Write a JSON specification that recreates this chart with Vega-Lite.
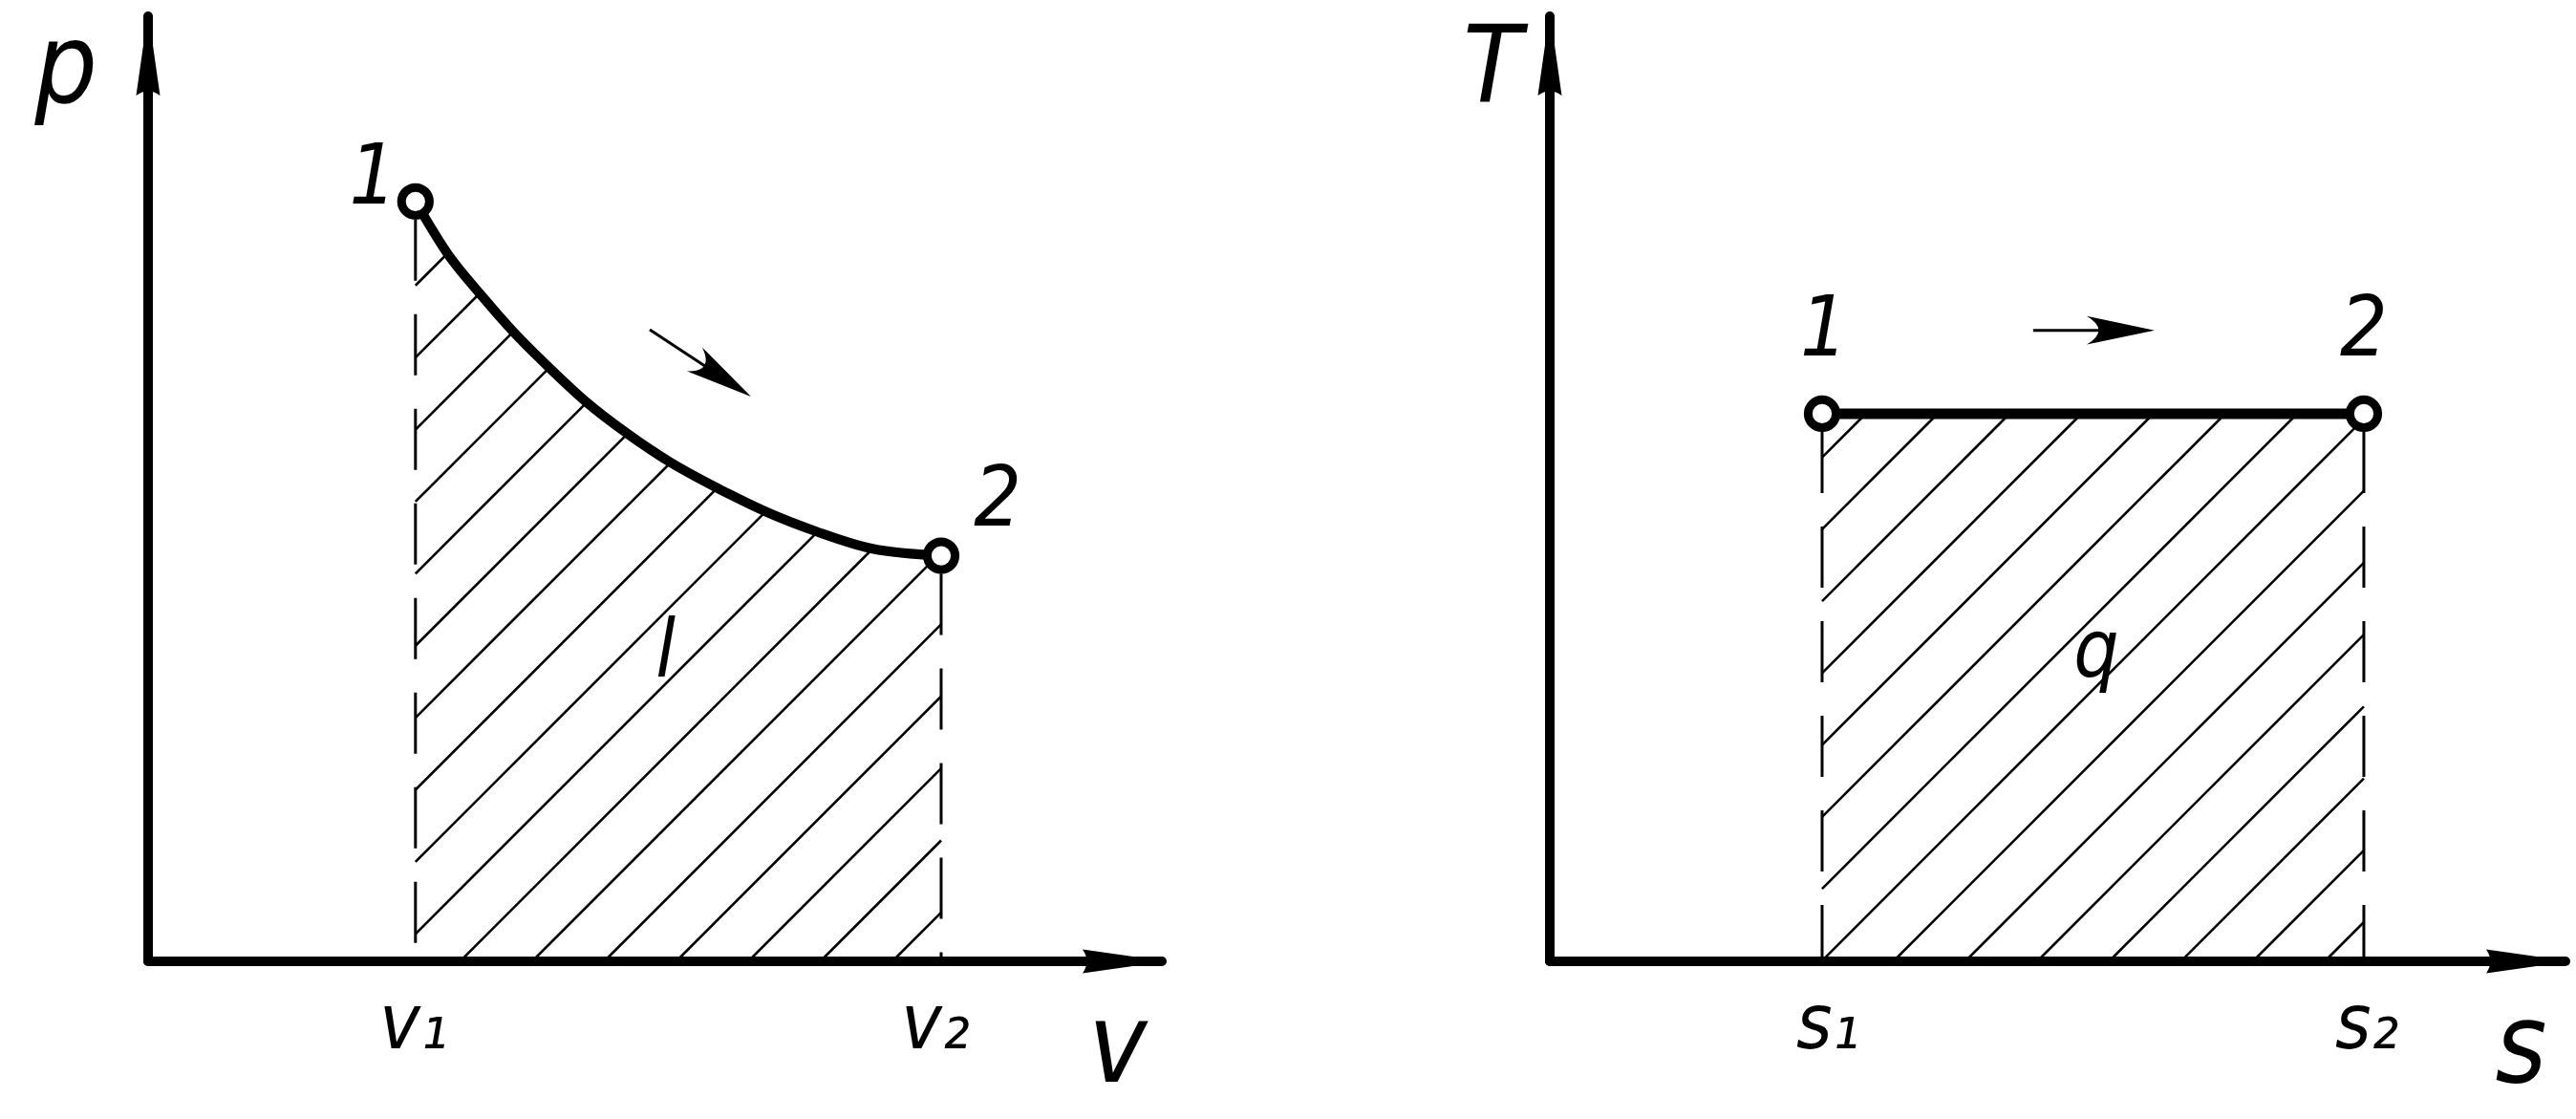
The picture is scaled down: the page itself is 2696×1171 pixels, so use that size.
{
  "$schema": "https://vega.github.io/schema/vega-lite/v6.json",
  "padding": 0,
  "spacing": 0,
  "bounds": "flush",
  "background": "white",
  "config": {"view": {"stroke": null}, "concat": {"spacing": 0}},
  "datasets": {
    "pv_hatch": [
      {"v": 28.15, "p": 71.15, "v2": 31.52, "p2": 74.52},
      {"v": 28.15, "p": 63.565, "v2": 34.91, "p2": 70.325},
      {"v": 28.15, "p": 55.98, "v2": 38.45, "p2": 66.28},
      {"v": 28.15, "p": 48.395, "v2": 42.24, "p2": 62.49},
      {"v": 28.15, "p": 40.81, "v2": 46.185, "p2": 58.845},
      {"v": 28.15, "p": 33.225, "v2": 50.48, "p2": 55.55},
      {"v": 28.15, "p": 25.64, "v2": 55.025, "p2": 52.515},
      {"v": 28.15, "p": 18.055, "v2": 59.93, "p2": 49.83},
      {"v": 28.15, "p": 10.47, "v2": 65.025, "p2": 47.345},
      {"v": 28.15, "p": 2.885, "v2": 70.48, "p2": 45.21},
      {"v": 32.85, "p": 0, "v2": 76.285, "p2": 43.435},
      {"v": 40.435, "p": 0, "v2": 83.2, "p2": 42.765},
      {"v": 48.02, "p": 0, "v2": 83.5, "p2": 35.48},
      {"v": 55.605, "p": 0, "v2": 83.5, "p2": 27.895},
      {"v": 63.19, "p": 0, "v2": 83.5, "p2": 20.31},
      {"v": 70.775, "p": 0, "v2": 83.5, "p2": 12.725},
      {"v": 78.36, "p": 0, "v2": 83.5, "p2": 5.14}
    ],
    "pv_bounds": [
      {"v": 28.15, "p": 80.0, "p2": 0},
      {"v": 83.5, "p": 42.7, "p2": 0}
    ],
    "pv_axes": [
      {"v": 0, "p": 0, "v2": 0, "p2": 99.5},
      {"v": 0, "p": 0, "v2": 106.74, "p2": 0}
    ],
    "pv_tips": [
      {"v": 0, "p": 100, "dir": "up"},
      {"v": 107.24, "p": 0, "dir": "right"}
    ],
    "pv_curve": [
      {"v": 28.15, "p": 80.0},
      {"v": 31.52, "p": 74.52},
      {"v": 34.91, "p": 70.325},
      {"v": 38.45, "p": 66.28},
      {"v": 42.24, "p": 62.49},
      {"v": 46.185, "p": 58.845},
      {"v": 50.48, "p": 55.55},
      {"v": 55.025, "p": 52.515},
      {"v": 59.93, "p": 49.83},
      {"v": 65.025, "p": 47.345},
      {"v": 70.48, "p": 45.21},
      {"v": 76.285, "p": 43.435},
      {"v": 83.5, "p": 42.7}
    ],
    "pv_arrow": [
      {"v": 52.82, "p": 66.5, "vm": 61.07, "pm": 61.07, "vt": 63.48, "pt": 59.46}
    ],
    "pv_states": [
      {"v": 28.15, "p": 80.0},
      {"v": 83.5, "p": 42.7}
    ],
    "pv_labels": [
      {"v": -8.65, "p": 90.44, "text": "p", "role": "axis"},
      {"v": 102.11, "p": -12.68, "text": "v", "role": "axis"},
      {"v": 23.69, "p": 79.78, "text": "1", "role": "state"},
      {"v": 89.44, "p": 45.87, "text": "2", "role": "state"},
      {"v": 27.97, "p": -9.16, "text": "v₁", "role": "bound"},
      {"v": 82.9, "p": -9.16, "text": "v₂", "role": "bound"},
      {"v": 54.48, "p": 29.98, "text": "l", "role": "area"}
    ],
    "ts_hatch": [
      {"s": 28.67, "T": 53.06, "s2": 33.26, "T2": 57.65},
      {"s": 28.67, "T": 45.49, "s2": 40.83, "T2": 57.65},
      {"s": 28.67, "T": 37.92, "s2": 48.4, "T2": 57.65},
      {"s": 28.67, "T": 30.35, "s2": 55.97, "T2": 57.65},
      {"s": 28.67, "T": 22.78, "s2": 63.54, "T2": 57.65},
      {"s": 28.67, "T": 15.21, "s2": 71.11, "T2": 57.65},
      {"s": 28.67, "T": 7.64, "s2": 78.68, "T2": 57.65},
      {"s": 28.67, "T": 0.07, "s2": 85.71, "T2": 57.11},
      {"s": 36.17, "T": 0, "s2": 85.71, "T2": 49.54},
      {"s": 43.74, "T": 0, "s2": 85.71, "T2": 41.97},
      {"s": 51.31, "T": 0, "s2": 85.71, "T2": 34.4},
      {"s": 58.88, "T": 0, "s2": 85.71, "T2": 26.83},
      {"s": 66.45, "T": 0, "s2": 85.71, "T2": 19.26},
      {"s": 74.02, "T": 0, "s2": 85.71, "T2": 11.69},
      {"s": 81.59, "T": 0, "s2": 85.71, "T2": 4.12}
    ],
    "ts_bounds": [
      {"s": 28.67, "T": 57.65, "T2": 0},
      {"s": 85.71, "T": 57.65, "T2": 0}
    ],
    "ts_axes": [
      {"s": 0, "T": 0, "s2": 0, "T2": 99.5},
      {"s": 0, "T": 0, "s2": 106.94, "T2": 0}
    ],
    "ts_tips": [
      {"s": 0, "T": 100, "dir": "up"},
      {"s": 107.44, "T": 0, "dir": "right"}
    ],
    "ts_process": [
      {"s": 28.67, "T": 57.65},
      {"s": 85.71, "T": 57.65}
    ],
    "ts_arrow": [
      {"s": 50.9, "T": 66.43, "sm": 60.77, "Tm": 66.43, "st": 63.68, "Tt": 66.43}
    ],
    "ts_labels": [
      {"s": -6.04, "T": 90.44, "text": "T", "role": "axisUpper"},
      {"s": 102.26, "T": -12.68, "text": "s", "role": "axis"},
      {"s": 28.87, "T": 63.78, "text": "1", "role": "state"},
      {"s": 85.71, "T": 63.78, "text": "2", "role": "state"},
      {"s": 29.28, "T": -9.16, "text": "s₁", "role": "bound"},
      {"s": 86.02, "T": -9.16, "text": "s₂", "role": "bound"},
      {"s": 57.55, "T": 29.98, "text": "q", "role": "area"}
    ]
  },
  "hconcat": [
    {
      "width": 1400,
      "height": 1171,
      "layer": [
        {
          "data": {"name": "pv_hatch"},
          "mark": {"type": "rule", "color": "black", "strokeWidth": 2.6},
          "encoding": {
            "x": {"field": "v", "type": "quantitative", "scale": {"domain": [-15.594, 125.252], "nice": false, "zero": false}, "axis": null},
            "x2": {"field": "v2"},
            "y": {"field": "p", "type": "quantitative", "scale": {"domain": [-16.6, 101.207], "nice": false, "zero": false}, "axis": null},
            "y2": {"field": "p2"}
          }
        },
        {
          "data": {"name": "pv_bounds"},
          "mark": {"type": "rule", "color": "black", "strokeWidth": 3, "strokeDash": [64, 35], "strokeDashOffset": 80},
          "encoding": {
            "x": {"field": "v", "type": "quantitative", "scale": {"domain": [-15.594, 125.252], "nice": false, "zero": false}, "axis": null},
            "y": {"field": "p", "type": "quantitative", "scale": {"domain": [-16.6, 101.207], "nice": false, "zero": false}, "axis": null},
            "y2": {"field": "p2"}
          }
        },
        {
          "data": {"name": "pv_axes"},
          "mark": {"type": "rule", "color": "black", "strokeWidth": 10, "strokeCap": "round"},
          "encoding": {
            "x": {"field": "v", "type": "quantitative", "scale": {"domain": [-15.594, 125.252], "nice": false, "zero": false}, "axis": null},
            "x2": {"field": "v2"},
            "y": {"field": "p", "type": "quantitative", "scale": {"domain": [-16.6, 101.207], "nice": false, "zero": false}, "axis": null},
            "y2": {"field": "p2"}
          }
        },
        {
          "data": {"name": "pv_tips"},
          "transform": [{"filter": "datum.dir == 'up'"}],
          "mark": {"type": "point", "shape": "M0,0L-0.284,2Q0,1.8,0.284,2Z", "size": 7744, "filled": true, "color": "black", "opacity": 1, "strokeWidth": 0, "angle": 0},
          "encoding": {
            "x": {"field": "v", "type": "quantitative", "scale": {"domain": [-15.594, 125.252], "nice": false, "zero": false}, "axis": null},
            "y": {"field": "p", "type": "quantitative", "scale": {"domain": [-16.6, 101.207], "nice": false, "zero": false}, "axis": null}
          }
        },
        {
          "data": {"name": "pv_tips"},
          "transform": [{"filter": "datum.dir == 'right'"}],
          "mark": {"type": "point", "shape": "M0,0L-0.284,2Q0,1.8,0.284,2Z", "size": 7744, "filled": true, "color": "black", "opacity": 1, "strokeWidth": 0, "angle": 90},
          "encoding": {
            "x": {"field": "v", "type": "quantitative", "scale": {"domain": [-15.594, 125.252], "nice": false, "zero": false}, "axis": null},
            "y": {"field": "p", "type": "quantitative", "scale": {"domain": [-16.6, 101.207], "nice": false, "zero": false}, "axis": null}
          }
        },
        {
          "data": {"name": "pv_curve"},
          "mark": {"type": "line", "color": "black", "strokeWidth": 10, "interpolate": "monotone", "strokeCap": "round"},
          "encoding": {
            "x": {"field": "v", "type": "quantitative", "scale": {"domain": [-15.594, 125.252], "nice": false, "zero": false}, "axis": null},
            "y": {"field": "p", "type": "quantitative", "scale": {"domain": [-16.6, 101.207], "nice": false, "zero": false}, "axis": null}
          }
        },
        {
          "data": {"name": "pv_arrow"},
          "mark": {"type": "rule", "color": "black", "strokeWidth": 3},
          "encoding": {
            "x": {"field": "v", "type": "quantitative", "scale": {"domain": [-15.594, 125.252], "nice": false, "zero": false}, "axis": null},
            "x2": {"field": "vm"},
            "y": {"field": "p", "type": "quantitative", "scale": {"domain": [-16.6, 101.207], "nice": false, "zero": false}, "axis": null},
            "y2": {"field": "pm"}
          }
        },
        {
          "data": {"name": "pv_arrow"},
          "mark": {"type": "point", "shape": "M0,0L-0.42,2Q0,1.3,0.42,2Z", "size": 5041, "filled": true, "color": "black", "opacity": 1, "strokeWidth": 0, "angle": 123.4},
          "encoding": {
            "x": {"field": "vt", "type": "quantitative", "scale": {"domain": [-15.594, 125.252], "nice": false, "zero": false}, "axis": null},
            "y": {"field": "pt", "type": "quantitative", "scale": {"domain": [-16.6, 101.207], "nice": false, "zero": false}, "axis": null}
          }
        },
        {
          "data": {"name": "pv_states"},
          "mark": {"type": "point", "shape": "circle", "size": 855, "fill": "white", "stroke": "black", "strokeWidth": 9, "opacity": 1, "fillOpacity": 1, "strokeOpacity": 1},
          "encoding": {
            "x": {"field": "v", "type": "quantitative", "scale": {"domain": [-15.594, 125.252], "nice": false, "zero": false}, "axis": null},
            "y": {"field": "p", "type": "quantitative", "scale": {"domain": [-16.6, 101.207], "nice": false, "zero": false}, "axis": null}
          }
        },
        {
          "data": {"name": "pv_labels"},
          "mark": {"type": "text", "color": "black", "align": "center", "baseline": "alphabetic", "font": "Liberation Sans Narrow, DejaVu Sans Condensed, Liberation Sans, sans-serif", "fontStyle": "italic"},
          "encoding": {
            "x": {"field": "v", "type": "quantitative", "scale": {"domain": [-15.594, 125.252], "nice": false, "zero": false}, "axis": null},
            "y": {"field": "p", "type": "quantitative", "scale": {"domain": [-16.6, 101.207], "nice": false, "zero": false}, "axis": null},
            "text": {"field": "text", "type": "nominal"},
            "size": {"field": "role", "type": "nominal", "scale": {"type": "ordinal", "domain": ["axis", "axisUpper", "state", "bound", "area"], "range": [115, 112, 87, 80, 83]}, "legend": null}
          }
        }
      ]
    },
    {
      "width": 1296,
      "height": 1171,
      "layer": [
        {
          "data": {"name": "ts_hatch"},
          "mark": {"type": "rule", "color": "black", "strokeWidth": 2.6},
          "encoding": {
            "x": {"field": "s", "type": "quantitative", "scale": {"domain": [-22.334, 108.048], "nice": false, "zero": false}, "axis": null},
            "x2": {"field": "s2"},
            "y": {"field": "T", "type": "quantitative", "scale": {"domain": [-16.6, 101.207], "nice": false, "zero": false}, "axis": null},
            "y2": {"field": "T2"}
          }
        },
        {
          "data": {"name": "ts_bounds"},
          "mark": {"type": "rule", "color": "black", "strokeWidth": 3, "strokeDash": [64, 35], "strokeDashOffset": 80},
          "encoding": {
            "x": {"field": "s", "type": "quantitative", "scale": {"domain": [-22.334, 108.048], "nice": false, "zero": false}, "axis": null},
            "y": {"field": "T", "type": "quantitative", "scale": {"domain": [-16.6, 101.207], "nice": false, "zero": false}, "axis": null},
            "y2": {"field": "T2"}
          }
        },
        {
          "data": {"name": "ts_axes"},
          "mark": {"type": "rule", "color": "black", "strokeWidth": 10, "strokeCap": "round"},
          "encoding": {
            "x": {"field": "s", "type": "quantitative", "scale": {"domain": [-22.334, 108.048], "nice": false, "zero": false}, "axis": null},
            "x2": {"field": "s2"},
            "y": {"field": "T", "type": "quantitative", "scale": {"domain": [-16.6, 101.207], "nice": false, "zero": false}, "axis": null},
            "y2": {"field": "T2"}
          }
        },
        {
          "data": {"name": "ts_tips"},
          "transform": [{"filter": "datum.dir == 'up'"}],
          "mark": {"type": "point", "shape": "M0,0L-0.284,2Q0,1.8,0.284,2Z", "size": 7744, "filled": true, "color": "black", "opacity": 1, "strokeWidth": 0, "angle": 0},
          "encoding": {
            "x": {"field": "s", "type": "quantitative", "scale": {"domain": [-22.334, 108.048], "nice": false, "zero": false}, "axis": null},
            "y": {"field": "T", "type": "quantitative", "scale": {"domain": [-16.6, 101.207], "nice": false, "zero": false}, "axis": null}
          }
        },
        {
          "data": {"name": "ts_tips"},
          "transform": [{"filter": "datum.dir == 'right'"}],
          "mark": {"type": "point", "shape": "M0,0L-0.284,2Q0,1.8,0.284,2Z", "size": 7744, "filled": true, "color": "black", "opacity": 1, "strokeWidth": 0, "angle": 90},
          "encoding": {
            "x": {"field": "s", "type": "quantitative", "scale": {"domain": [-22.334, 108.048], "nice": false, "zero": false}, "axis": null},
            "y": {"field": "T", "type": "quantitative", "scale": {"domain": [-16.6, 101.207], "nice": false, "zero": false}, "axis": null}
          }
        },
        {
          "data": {"name": "ts_process"},
          "mark": {"type": "line", "color": "black", "strokeWidth": 11},
          "encoding": {
            "x": {"field": "s", "type": "quantitative", "scale": {"domain": [-22.334, 108.048], "nice": false, "zero": false}, "axis": null},
            "y": {"field": "T", "type": "quantitative", "scale": {"domain": [-16.6, 101.207], "nice": false, "zero": false}, "axis": null}
          }
        },
        {
          "data": {"name": "ts_arrow"},
          "mark": {"type": "rule", "color": "black", "strokeWidth": 3},
          "encoding": {
            "x": {"field": "s", "type": "quantitative", "scale": {"domain": [-22.334, 108.048], "nice": false, "zero": false}, "axis": null},
            "x2": {"field": "sm"},
            "y": {"field": "T", "type": "quantitative", "scale": {"domain": [-16.6, 101.207], "nice": false, "zero": false}, "axis": null},
            "y2": {"field": "Tm"}
          }
        },
        {
          "data": {"name": "ts_arrow"},
          "mark": {"type": "point", "shape": "M0,0L-0.42,2Q0,1.3,0.42,2Z", "size": 5041, "filled": true, "color": "black", "opacity": 1, "strokeWidth": 0, "angle": 90},
          "encoding": {
            "x": {"field": "st", "type": "quantitative", "scale": {"domain": [-22.334, 108.048], "nice": false, "zero": false}, "axis": null},
            "y": {"field": "Tt", "type": "quantitative", "scale": {"domain": [-16.6, 101.207], "nice": false, "zero": false}, "axis": null}
          }
        },
        {
          "data": {"name": "ts_process"},
          "mark": {"type": "point", "shape": "circle", "size": 855, "fill": "white", "stroke": "black", "strokeWidth": 9, "opacity": 1, "fillOpacity": 1, "strokeOpacity": 1},
          "encoding": {
            "x": {"field": "s", "type": "quantitative", "scale": {"domain": [-22.334, 108.048], "nice": false, "zero": false}, "axis": null},
            "y": {"field": "T", "type": "quantitative", "scale": {"domain": [-16.6, 101.207], "nice": false, "zero": false}, "axis": null}
          }
        },
        {
          "data": {"name": "ts_labels"},
          "mark": {"type": "text", "color": "black", "align": "center", "baseline": "alphabetic", "font": "Liberation Sans Narrow, DejaVu Sans Condensed, Liberation Sans, sans-serif", "fontStyle": "italic"},
          "encoding": {
            "x": {"field": "s", "type": "quantitative", "scale": {"domain": [-22.334, 108.048], "nice": false, "zero": false}, "axis": null},
            "y": {"field": "T", "type": "quantitative", "scale": {"domain": [-16.6, 101.207], "nice": false, "zero": false}, "axis": null},
            "text": {"field": "text", "type": "nominal"},
            "size": {"field": "role", "type": "nominal", "scale": {"type": "ordinal", "domain": ["axis", "axisUpper", "state", "bound", "area"], "range": [115, 112, 87, 80, 83]}, "legend": null}
          }
        }
      ]
    }
  ]
}
